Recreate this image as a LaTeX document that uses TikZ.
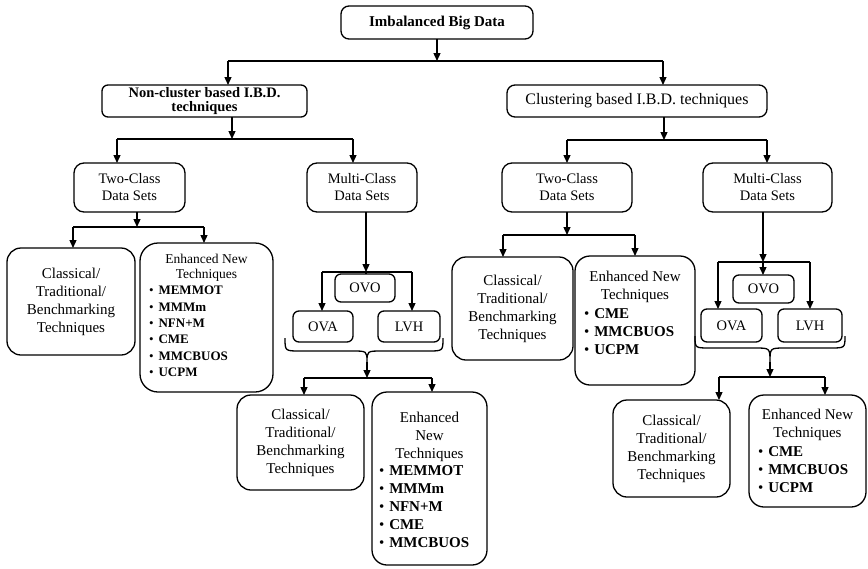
\documentclass[tikz,border=0pt]{standalone}
\usepackage{fontspec}
\setmainfont{Liberation Serif}
\usetikzlibrary{arrows.meta}
% fixed-size box with its text hanging from the top
\newcommand{\padbox}[4]{\parbox[c][#2][t]{#1}{\vspace*{#3}#4}}
\newcommand{\itm}[1]{\textbullet\hspace{5pt}\textbf{#1}}

\begin{document}
\begin{tikzpicture}[x=1pt,y=-1pt,
  every node/.style={inner sep=0pt, outer sep=0pt},
  blk/.style={draw, line width=1.3pt, rounded corners=#1, align=center},
  blk/.default=8pt,
  lnk/.style={line width=1.3pt},
  arr/.style={line width=1.3pt, -{Triangle[length=8pt,width=7pt]}},
  dset/.style={blk=10pt, font=\fontsize{14.5}{17}\selectfont, minimum height=49pt},
  opt/.style={blk=6pt, font=\fontsize{14.5}{17}\selectfont},
  cls/.style={blk=14pt, font=\fontsize{15}{18}\selectfont},
]
\useasboundingbox (0,0) rectangle (868,568);

% ---- level 0 and 1
\node[blk, font=\bfseries\fontsize{15}{18}\selectfont, minimum width=192pt, minimum height=33pt] (top) at (437,22.5) {Imbalanced Big Data};
\node[blk=6pt, font=\bfseries\fontsize{14.5}{13.5}\selectfont, minimum width=205pt, minimum height=32pt] (nc) at (204.5,101) {Non-cluster based I.B.D.\\techniques};
\node[blk, font=\fontsize{16}{18}\selectfont, minimum width=260pt, minimum height=32pt] (cl) at (637,101) {Clustering based I.B.D. techniques};

% ---- data set kinds
\node[dset, minimum width=111pt] (tc1) at (129.5,187.5) {Two-Class\\Data Sets};
\node[dset, minimum width=110pt] (mc1) at (362,187.5) {Multi-Class\\Data Sets};
\node[dset, minimum width=130pt] (tc2) at (567,187.5) {Two-Class\\Data Sets};
\node[dset, minimum width=129pt] (mc2) at (767.5,187.5) {Multi-Class\\Data Sets};

% ---- non-cluster, two-class
\node[cls, minimum width=128pt, minimum height=107pt] (cls1) at (71,301.5) {Classical/\\Traditional/\\Benchmarking\\Techniques};
\node[blk=18pt] (enh1) at (206.5,317.5) {\padbox{133pt}{149pt}{11pt}{%
  {\fontsize{13.5}{15}\selectfont\centering Enhanced New\\Techniques\par}%
  \fontsize{13}{16.4}\selectfont\raggedright\leftskip=9pt
  \itm{MEMMOT}\\\itm{MMMm}\\\itm{NFN+M}\\\itm{CME}\\\itm{MMCBUOS}\\\itm{UCPM}}};

% ---- non-cluster, multi-class
\node[opt, minimum width=60pt, minimum height=28pt] (ovo1) at (365,288) {OVO};
\node[opt, minimum width=60pt, minimum height=31pt] (ova1) at (323,326.5) {OVA};
\node[opt, minimum width=62pt, minimum height=31pt] (lvh1) at (409,326.5) {LVH};
\node[cls, minimum width=127pt, minimum height=95pt] (cls2) at (300.5,442.5) {Classical/\\Traditional/\\Benchmarking\\Techniques};
\node[blk=15pt] (enh2) at (429.5,478.5) {\padbox{115pt}{173pt}{20pt}{%
  {\fontsize{15}{17.8}\selectfont\centering Enhanced\\New\\Techniques\par}%
  \fontsize{15}{17.8}\selectfont\raggedright\leftskip=7pt
  \itm{MEMMOT}\\\itm{MMMm}\\\itm{NFN+M}\\\itm{CME}\\\itm{MMCBUOS}}};

% ---- clustering, two-class
\node[cls, minimum width=121pt, minimum height=103pt] (cls3) at (512.5,308.5) {Classical/\\Traditional/\\Benchmarking\\Techniques};
\node[blk=15pt] (enh3) at (635,320.5) {\padbox{120pt}{129pt}{15pt}{%
  {\fontsize{15}{18.3}\selectfont\centering Enhanced New\\Techniques\par}%
  \fontsize{15}{18.3}\selectfont\raggedright\leftskip=9pt
  \itm{CME}\\\itm{MMCBUOS}\\\itm{UCPM}}};

% ---- clustering, multi-class
\node[opt, minimum width=61pt, minimum height=28pt] (ovo2) at (763.5,289) {OVO};
\node[opt, minimum width=61pt, minimum height=33pt] (ova2) at (731.5,325.5) {OVA};
\node[opt, minimum width=64pt, minimum height=33pt] (lvh2) at (810,325.5) {LVH};
\node[cls, minimum width=117pt, minimum height=97pt] (cls4) at (671.5,448.5) {Classical/\\Traditional/\\Benchmarking\\Techniques};
\node[blk=15pt] (enh4) at (807.5,451) {\padbox{117pt}{112pt}{14pt}{%
  {\fontsize{15}{18.3}\selectfont\centering Enhanced New\\Techniques\par}%
  \fontsize{15}{18.3}\selectfont\raggedright\leftskip=9pt
  \itm{CME}\\\itm{MMCBUOS}\\\itm{UCPM}}};

% ---- junctions of the tree
\coordinate (j0) at (437,61);  \coordinate (j0L) at (228,61);  \coordinate (j0R) at (663,61);
\coordinate (j1) at (232,139); \coordinate (j1L) at (117,139); \coordinate (j1R) at (353,139);
\coordinate (j2) at (664,140); \coordinate (j2L) at (567,140); \coordinate (j2R) at (767,140);
\coordinate (j3) at (137,227); \coordinate (j3L) at (73,227);  \coordinate (j3R) at (204,227);
\coordinate (j4) at (366,272); \coordinate (j4L) at (322,272); \coordinate (j4R) at (412,272);
\coordinate (b1) at (367,362);
\coordinate (j5) at (367,378); \coordinate (j5L) at (304,378); \coordinate (j5R) at (432,378);
\coordinate (j6) at (567,235); \coordinate (j6L) at (503,235); \coordinate (j6R) at (635,235);
\coordinate (j7) at (763,262); \coordinate (j7L) at (718,262); \coordinate (j7R) at (810,262);
\coordinate (b2) at (770,362);
\coordinate (j8) at (770,377); \coordinate (j8L) at (719,377); \coordinate (j8R) at (825,377);

% root
\draw[arr] (top.south) -- (j0);
\draw[lnk] (j0L) -- (j0R);
\draw[arr] (j0L) -- (j0L |- nc.north);
\draw[arr] (j0R) -- (j0R |- cl.north);
% non-cluster
\draw[arr] (j1 |- nc.south) -- (j1);
\draw[lnk] (j1L) -- (j1R);
\draw[arr] (j1L) -- (j1L |- tc1.north);
\draw[arr] (j1R) -- (j1R |- mc1.north);
% clustering
\draw[arr] (j2 |- cl.south) -- (j2);
\draw[lnk] (j2L) -- (j2R);
\draw[arr] (j2L) -- (j2L |- tc2.north);
\draw[arr] (j2R) -- (j2R |- mc2.north);
% two-class (left)
\draw[arr] (j3 |- tc1.south) -- (j3);
\draw[lnk] (j3L) -- (j3R);
\draw[arr] (j3L) -- (j3L |- cls1.north);
\draw[arr] (j3R) -- (j3R |- enh1.north);
% multi-class (left)
\draw[arr] (j4 |- mc1.south) -- (j4);
\draw[lnk] (j4) -- (j4 |- ovo1.north);
\draw[lnk] (j4L) -- (j4R);
\draw[arr] (j4L) -- (j4L |- ova1.north);
\draw[arr] (j4R) -- (j4R |- lvh1.north);
\draw[lnk] (285,338) .. controls (285,351) .. (300,351) -- (352,351)
  .. controls (367,351) .. (b1) .. controls (367,351) .. (382,351) -- (428,351)
  .. controls (443,351) .. (443,338);
\draw[arr] (b1) -- (j5);
\draw[lnk] (j5L) -- (j5R);
\draw[arr] (j5L) -- (j5L |- cls2.north);
\draw[arr] (j5R) -- (j5R |- enh2.north);
% two-class (right)
\draw[arr] (j6 |- tc2.south) -- (j6);
\draw[lnk] (j6L) -- (j6R);
\draw[arr] (j6L) -- (j6L |- cls3.north);
\draw[arr] (j6R) -- (j6R |- enh3.north);
% multi-class (right)
\draw[arr] (j7 |- mc2.south) -- (j7);
\draw[arr] (j7) -- (j7 |- ovo2.north);
\draw[lnk] (j7L) -- (j7R);
\draw[arr] (j7L) -- (j7L |- ova2.north);
\draw[arr] (j7R) -- (j7R |- lvh2.north);
\draw[lnk] (695,336) .. controls (695,348) .. (710,348) -- (755,348)
  .. controls (770,348) .. (b2) .. controls (770,348) .. (785,348) -- (830,348)
  .. controls (845,348) .. (845,336);
\draw[arr] (b2) -- (j8);
\draw[lnk] (j8L) -- (j8R);
\draw[arr] (j8L) -- (j8L |- cls4.north);
\draw[arr] (j8R) -- (j8R |- enh4.north);
\end{tikzpicture}
\end{document}
